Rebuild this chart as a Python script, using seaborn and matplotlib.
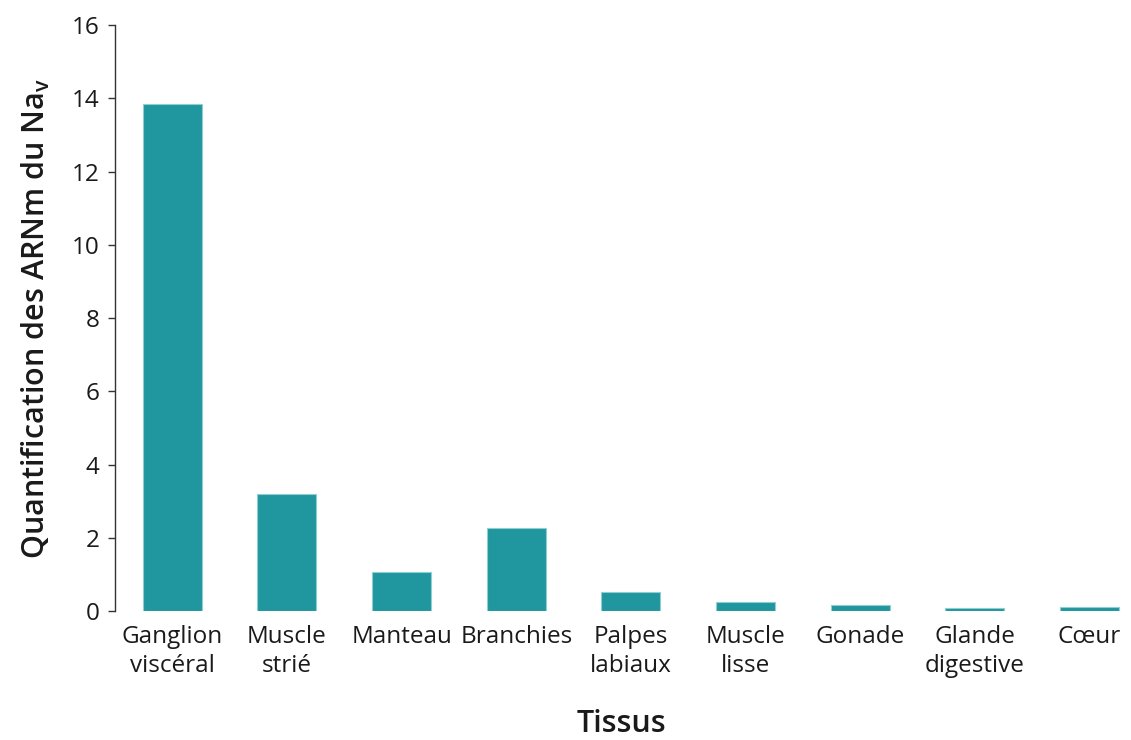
import matplotlib
matplotlib.use("Agg")
import matplotlib.pyplot as plt
import seaborn as sns
import pandas as pd

tissues = ["Ganglion\nviscéral", "Muscle\nstrié", "Manteau", "Branchies", "Palpes\nlabiaux",
           "Muscle\nlisse", "Gonade", "Glande\ndigestive", "Cœur"]
values = [13.85, 3.2, 1.07, 2.27, 0.52, 0.25, 0.16, 0.09, 0.11]
yticks = [0, 2, 4, 6, 8, 10, 12, 14, 16]

sns.set_style("white")
plt.rcParams['font.family'] = ['Open Sans', 'DejaVu Sans']
plt.rcParams['mathtext.fontset'] = 'custom'
plt.rcParams['mathtext.rm'] = 'Open Sans'

df = pd.DataFrame({"Tissu": tissues, "Valeur": values})

fig = plt.figure(figsize=(11.31, 7.40), dpi=100)
ax = fig.add_axes([0.1017, 0.1743, 0.895, 0.7917])
sns.barplot(data=df, x="Tissu", y="Valeur", color="#20969e", width=0.515,
            edgecolor="#8fcfd3", linewidth=0.8, saturation=1, ax=ax)

ax.set_ylim(0, 16)
ax.set_xlim(-0.5, 8.33)
ax.set_yticks(yticks)
ax.set_yticklabels([str(t) for t in yticks], fontsize=17.5, color="#1a1a1a")
ax.tick_params(axis="y", which="major", direction="out", length=5, width=1, color="#333333", pad=6, left=True)
ax.tick_params(axis="x", length=0, pad=10, labelsize=17.5, labelcolor="#1a1a1a")
for lab in ax.get_xticklabels():
    lab.set_linespacing(1.3)
for s in ["top", "right", "bottom"]:
    ax.spines[s].set_visible(False)
ax.spines["left"].set_color("#333333")
ax.spines["left"].set_linewidth(1)

ax.set_ylabel(r"Quantification des ARNm du Na$_\mathregular{v}$", fontsize=22, color="#1a1a1a",
              fontweight="semibold", labelpad=14)
ax.set_xlabel("Tissus", fontsize=22, fontweight="semibold", color="#1a1a1a", labelpad=22)

fig.savefig("out.png", dpi=100)
